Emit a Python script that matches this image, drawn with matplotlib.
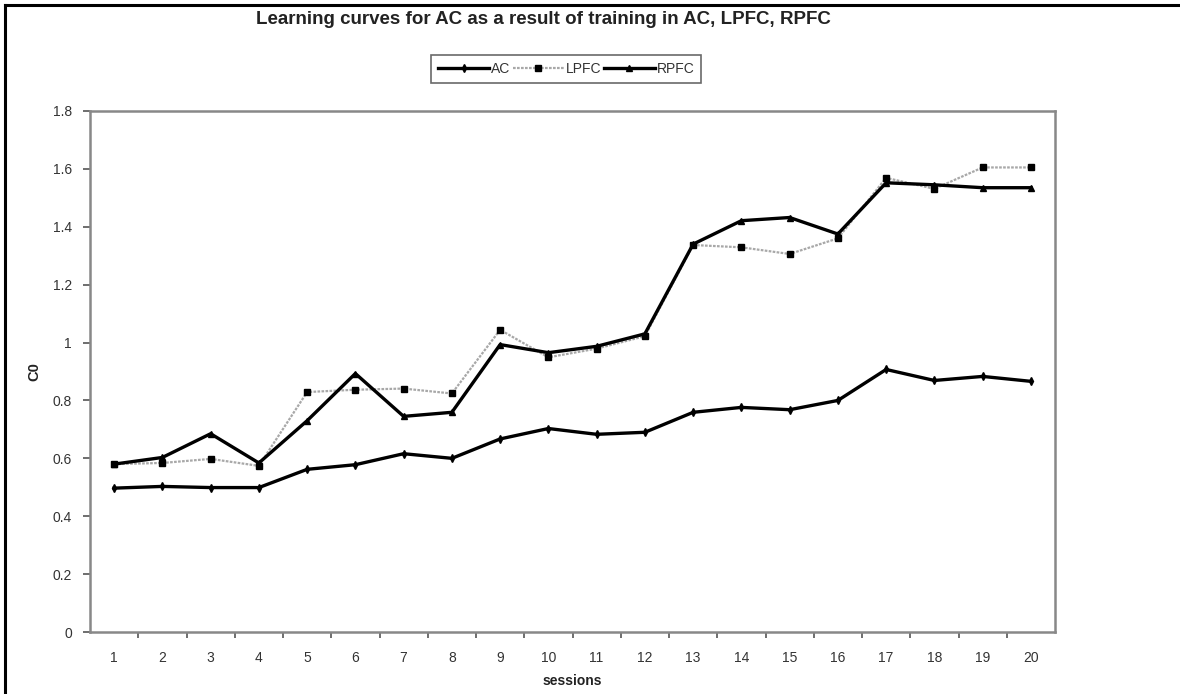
import matplotlib
matplotlib.use('Agg')
import matplotlib.pyplot as plt
from matplotlib.lines import Line2D

plt.rcParams['font.family'] = ['Liberation Sans', 'DejaVu Sans']

sessions = list(range(1, 21))
ac = [0.497, 0.503, 0.499, 0.499, 0.562, 0.578, 0.616, 0.600, 0.667, 0.703,
      0.683, 0.690, 0.759, 0.776, 0.768, 0.800, 0.907, 0.869, 0.883, 0.866]
lpfc = [0.580, 0.584, 0.598, 0.574, 0.829, 0.837, 0.841, 0.824, 1.044, 0.949,
        0.979, 1.022, 1.337, 1.329, 1.306, 1.360, 1.569, 1.531, 1.605, 1.605]
rpfc = [0.580, 0.603, 0.685, 0.584, 0.730, 0.893, 0.745, 0.759, 0.993, 0.965,
        0.987, 1.030, 1.340, 1.421, 1.432, 1.375, 1.552, 1.545, 1.535, 1.535]
y_ticks = [0, 0.2, 0.4, 0.6, 0.8, 1, 1.2, 1.4, 1.6, 1.8]

fig = plt.figure(figsize=(11.8, 6.94), dpi=100)
ax = fig.add_axes([90 / 1180, 62 / 694, 965 / 1180, 521 / 694])

ax.plot(sessions, lpfc, color='#a8a8a8', lw=1.6, ls=(0, (1.2, 0.6)),
        marker='s', ms=5, mfc='black', mec='black', zorder=3)
ax.plot(sessions, rpfc, color='black', lw=2.4, marker='^', ms=5,
        mfc='black', mec='black', zorder=4)
ax.plot(sessions, ac, color='black', lw=2.4, marker='d', ms=4,
        mfc='black', mec='black', zorder=5)

ax.set_xlim(0.5, 20.5)
ax.set_ylim(0, 1.8)
ax.set_xticks(sessions)
ax.set_xticks([s + 0.5 for s in sessions[:-1]], minor=True)
ax.set_yticks(y_ticks)
ax.set_yticklabels(['0', '0.2', '0.4', '0.6', '0.8', '1', '1.2', '1.4', '1.6', '1.8'])
ax.tick_params(axis='x', which='major', length=0, pad=14, labelsize=10, labelcolor='#333333')
ax.tick_params(axis='x', which='minor', length=4, width=1.2, color='#555555', direction='out')
ax.tick_params(axis='y', length=5, width=1.2, color='#555555', direction='out',
               pad=8, labelsize=10, labelcolor='#333333')
for sp in ax.spines.values():
    sp.set_color('#888888')
    sp.set_linewidth(1.8)

ax.set_xlabel('sessions', fontsize=10, fontweight='bold', color='#222222', labelpad=6)
ax.set_ylabel('C0', fontsize=10.5, fontweight='bold', color='#222222', labelpad=8)

fig.text(543 / 1180, 1 - 20 / 694, 'Learning curves for AC as a result of training in AC, LPFC, RPFC',
         ha='center', va='center', fontsize=13.5, fontweight='bold', color='#222222')

handles = [
    Line2D([], [], color='black', lw=2.4, marker='d', ms=4),
    Line2D([], [], color='#a8a8a8', lw=1.6, ls=(0, (1.2, 0.6)), marker='s', ms=5,
           mfc='black', mec='black'),
    Line2D([], [], color='black', lw=2.4, marker='^', ms=5),
]
leg = fig.legend(handles, ['AC', 'LPFC', 'RPFC'], loc='center',
                 bbox_to_anchor=(566 / 1180, 1 - 69 / 694), ncol=3, frameon=True,
                 fancybox=False, fontsize=10, handlelength=3.7, handletextpad=0.1,
                 columnspacing=0.2, borderpad=0.5, borderaxespad=0)
leg.get_frame().set_edgecolor('#444444')
leg.get_frame().set_linewidth(1.2)
for t in leg.get_texts():
    t.set_color('#333333')

# outer frame edges (left and top)
fig.add_artist(Line2D([5 / 1180, 5 / 1180], [0, 1 - 5 / 694], color='black', lw=2.2,
                      transform=fig.transFigure))
fig.add_artist(Line2D([5 / 1180, 1], [1 - 5 / 694, 1 - 5 / 694], color='black', lw=2.2,
                      transform=fig.transFigure))

fig.savefig('out.png', dpi=100)
